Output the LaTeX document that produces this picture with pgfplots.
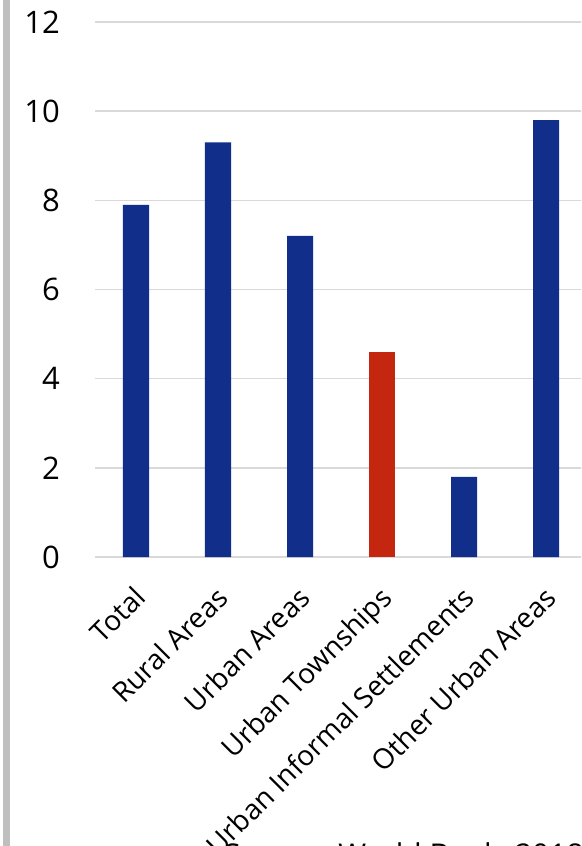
\documentclass[border=0pt]{standalone}
\usepackage{fontspec}
\setmainfont{Open Sans}
\usepackage{pgfplots}
\pgfplotsset{compat=1.18}
\definecolor{barblue}{HTML}{112E8A}
\definecolor{barred}{HTML}{C42610}
\definecolor{gridgray}{HTML}{D9D9D9}
\definecolor{sidegray}{HTML}{BFBFBF}
\begin{document}
\begin{tikzpicture}[x=1pt,y=1pt]
\clip (0,0) rectangle (581,846);
\fill[white] (0,0) rectangle (581,846);
\fill[sidegray] (3,0) rectangle (10,846);
\begin{axis}[
  at={(95pt,289pt)}, anchor=south west,
  scale only axis, width=492pt, height=535pt,
  xmin=-0.5, xmax=5.5, ymin=0, ymax=12,
  axis line style={draw=none},
  ymajorgrids, grid style={gridgray, line width=1.6pt},
  major tick length=0pt,
  ytick={0,2,4,6,8,10,12},
  xtick={0,1,2,3,4,5},
  xticklabels={Total,Rural Areas,Urban Areas,Urban Townships,Urban Informal Settlements,Other Urban Areas},
  /pgf/number format/assume math mode=true,
  yticklabel style={font=\fontsize{31}{31}\selectfont, text=black, anchor=east, inner sep=0pt, xshift=-35pt},
  xticklabel style={font=\fontsize{28}{28}\selectfont, text=black, rotate=45, anchor=north east, inner sep=0pt, xshift=-22pt, yshift=-17pt},
  ybar, bar width=26pt,
  clip=false,
]
\addplot[fill=barblue, draw=none, bar shift=0pt] coordinates {(0,7.9) (1,9.3) (2,7.2) (4,1.8) (5,9.8)};
\addplot[fill=barred, draw=none, bar shift=0pt] coordinates {(3,4.6)};
\end{axis}
\node[anchor=north west, inner sep=0pt, font=\fontsize{30}{30}\selectfont] at (224,3) {Source: World Bank, 2018};
\end{tikzpicture}
\end{document}
